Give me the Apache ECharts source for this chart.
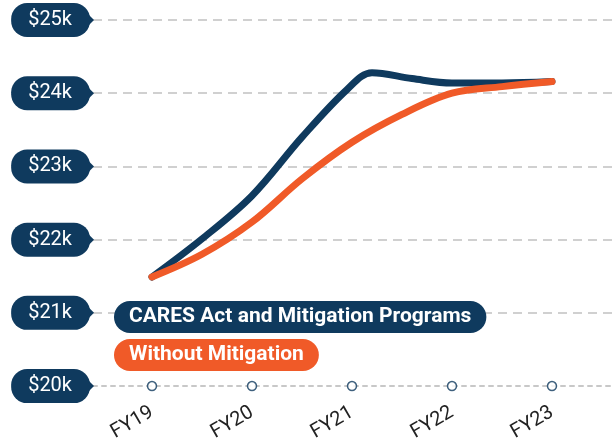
<!DOCTYPE html>
<html>
<head>
<meta charset="utf-8">
<script src="https://cdn.jsdelivr.net/npm/echarts@6/dist/echarts.min.js"></script>
<style>html,body{margin:0;padding:0;background:#fff}#c{width:613px;height:444px}</style>
</head>
<body>
<div id="c"></div>
<script>
const fyLabels = ['FY19', 'FY20', 'FY21', 'FY22', 'FY23'];
const fyPositions = [0, 1, 2, 3, 4];
const yTicks = [20, 21, 22, 23, 24, 25];

const caresName = 'CARES Act and Mitigation Programs';
const caresX = [0, 0.5, 1, 1.5, 1.95, 2.2, 2.6, 3, 3.5, 4];
const caresY = [21.49, 22.01, 22.6, 23.4, 24.05, 24.28, 24.2, 24.14, 24.14, 24.16];

const withoutName = 'Without Mitigation';
const withoutX = [0, 0.5, 1, 1.5, 2, 2.5, 3, 3.5, 4];
const withoutY = [21.49, 21.8, 22.24, 22.83, 23.33, 23.71, 24.0, 24.09, 24.16];

const NAVY = '#0f3a5e';
const ORANGE = '#f05a28';

const chart = echarts.init(document.getElementById('c'), null, {renderer: 'canvas'});
const zip = (xs, ys) => xs.map((x, i) => [x, ys[i]]);

const option = {
  animation: false,
  grid: {left: 93, right: 0, top: 20, bottom: 56, containLabel: false},
  legend: {
    orient: 'vertical',
    left: 104,
    top: 296,
    itemGap: 6,
    itemWidth: 0,
    itemHeight: 0,
    icon: 'none',
    selectedMode: false,
    data: [
      {name: caresName, textStyle: {backgroundColor: NAVY}},
      {name: withoutName, textStyle: {backgroundColor: ORANGE}}
    ],
    textStyle: {
      color: '#fff',
      fontFamily: 'Roboto',
      fontWeight: 'bold',
      fontSize: 21,
      lineHeight: 21,
      padding: [6, 15, 5, 15],
      borderRadius: 16
    }
  },
  xAxis: {
    type: 'value',
    min: -0.59,
    max: 4.61,
    axisLine: {show: true, lineStyle: {color: '#c8c8c8', width: 2, type: [4, 5]}},
    axisTick: {show: false},
    splitLine: {show: false},
    axisLabel: {
      customValues: fyPositions,
      formatter: v => fyLabels[Math.round(v)],
      rotate: 30,
      margin: 25,
      color: '#222',
      fontFamily: 'Roboto',
      fontSize: 20
    }
  },
  yAxis: {
    type: 'value',
    min: 20,
    max: 25,
    interval: 1,
    axisLine: {show: false},
    axisTick: {show: false},
    splitLine: {show: true, showMinLine: false, lineStyle: {color: '#d0d0d0', width: 2, type: [9, 6]}},
    axisLabel: {
      margin: 3,
      formatter: v => '{t|$' + v + 'k}',
      rich: {
        t: {
          color: '#fff',
          fontFamily: 'Roboto',
          fontSize: 20,
          lineHeight: 20,
          backgroundColor: NAVY,
          borderRadius: 16,
          padding: [7, 18, 7, 17]
        }
      }
    }
  },
  series: [
    {
      name: caresName,
      type: 'line',
      data: zip(caresX, caresY),
      smooth: 0.35,
      showSymbol: false,
      lineStyle: {color: NAVY, width: 7, cap: 'round', join: 'round'},
      itemStyle: {color: NAVY},
      z: 3
    },
    {
      name: withoutName,
      type: 'line',
      data: zip(withoutX, withoutY),
      smooth: 0.35,
      showSymbol: false,
      lineStyle: {color: ORANGE, width: 7, cap: 'round', join: 'round'},
      itemStyle: {color: ORANGE},
      z: 4
    },
    {
      name: 'ticks',
      type: 'scatter',
      data: fyPositions.map(p => [p, yTicks[0]]),
      symbol: 'circle',
      symbolSize: 9,
      itemStyle: {color: '#fff', borderColor: NAVY, borderWidth: 1.5},
      z: 5,
      silent: true
    }
  ]
};
chart.setOption(option);

// small pointer tips on the y-axis tag labels
const tips = yTicks.map(v => {
  const py = chart.convertToPixel({yAxisIndex: 0}, v);
  return {
    type: 'polygon',
    shape: {points: [[86, py - 8], [94, py], [86, py + 8]]},
    style: {fill: NAVY},
    z: 10
  };
});
chart.setOption({graphic: tips});
</script>
</body>
</html>
